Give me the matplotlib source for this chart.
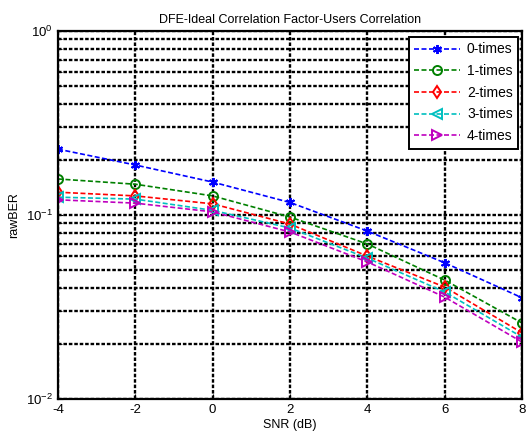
import numpy as np
import matplotlib
matplotlib.use("Agg")
import matplotlib.pyplot as plt
from matplotlib.ticker import LogLocator, FixedLocator

plt.rcParams['font.family'] = ['Liberation Sans', 'DejaVu Sans']
plt.rcParams['mathtext.fontset'] = 'custom'
plt.rcParams['mathtext.rm'] = 'Liberation Sans'
plt.rcParams['mathtext.it'] = 'Liberation Sans'
plt.rcParams['axes.unicode_minus'] = False

# =========================================
# DATA
# =========================================
snr = [-4, -2, 0, 2, 4, 6, 8]

ber_0 = [0.228, 0.187, 0.151, 0.117, 0.0818, 0.0550, 0.0355]
ber_1 = [0.157, 0.147, 0.127, 0.0975, 0.0696, 0.0443, 0.0259]
ber_2 = [0.133, 0.127, 0.115, 0.0893, 0.0598, 0.0406, 0.0229]
ber_3 = [0.125, 0.122, 0.106, 0.0850, 0.0583, 0.0382, 0.0217]
ber_4 = [0.121, 0.116, 0.104, 0.0809, 0.0556, 0.0358, 0.0204]

labels = ["0-times", "1-times", "2-times", "3-times", "4-times"]
colors = ["#0000ff", "#008000", "#ff0000", "#00bfbf", "#bf00bf"]
markers = [(6, 2, 0), "o", "d", "<", ">"]

# =========================================
# PLOT
# =========================================
fig = plt.figure(figsize=(5.3, 4.43), dpi=100)
ax = fig.add_axes([0.1094, 0.0993, 0.8755, 0.8307])

for ys, lab, c, m in zip([ber_0, ber_1, ber_2, ber_3, ber_4], labels, colors, markers):
    ax.semilogy(snr, ys, linestyle=(0, (3, 1.5)), color=c, marker=m, markersize=6.5,
                markerfacecolor='none', markeredgecolor=c, markeredgewidth=1.4,
                linewidth=1.2, label=lab)

ax.set_xlim(-4, 8)
ax.set_ylim(1e-2, 1)
ax.set_xticks(snr)
ax.yaxis.set_major_locator(FixedLocator([1e-2, 1e-1, 1]))
ax.yaxis.set_minor_locator(LogLocator(base=10, subs=np.arange(2, 10)))
ax.set_yticklabels([r'$10^{-2}$', r'$10^{-1}$', r'$10^{0}$'])

ax.grid(True, which='both', color='black', linestyle=(0, (1.5, 0.8)), linewidth=1.7)
ax.tick_params(which='both', direction='in', labelsize=9.5)
ax.tick_params(which='minor', length=3)
for sp in ax.spines.values():
    sp.set_linewidth(1.6)

ax.set_title("DFE-Ideal Correlation Factor-Users Correlation", fontsize=9, pad=6)
ax.set_xlabel("SNR (dB)", fontsize=9, labelpad=2)
ax.set_ylabel("rawBER", fontsize=9)

leg = ax.legend(loc='upper right', fontsize=10, fancybox=False, framealpha=1,
                edgecolor='black', borderaxespad=0.0, handlelength=3.3,
                labelspacing=0.55, borderpad=0.4, handletextpad=0.5,
                bbox_to_anchor=(0.992, 0.984))
leg.get_frame().set_linewidth(1.4)

fig.savefig("out.png", dpi=100)
